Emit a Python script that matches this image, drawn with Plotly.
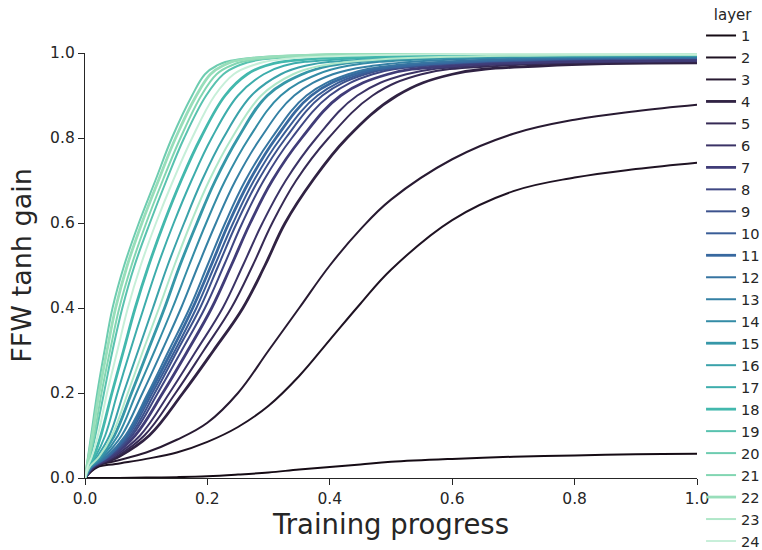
import plotly.graph_objects as go

# ---------------- data ----------------
LAYERS = list(range(1, 25))

# layers 1-3: gain sampled on a training-progress grid
PROGRESS_GRID = [0, 0.02, 0.05, 0.1, 0.15, 0.2, 0.25, 0.3, 0.35, 0.4, 0.45, 0.5, 0.6, 0.7, 0.8, 0.9, 1.0]
gain_L01 = [0, 0.0, 0.0, 0.001, 0.002, 0.004, 0.008, 0.013, 0.02, 0.026, 0.032, 0.038, 0.045, 0.05, 0.053, 0.056, 0.057]
gain_L02 = [0, 0.025, 0.033, 0.045, 0.06, 0.085, 0.12, 0.17, 0.24, 0.325, 0.41, 0.49, 0.607, 0.675, 0.707, 0.727, 0.742]
gain_L03 = [0, 0.028, 0.04, 0.06, 0.09, 0.13, 0.2, 0.3, 0.4, 0.5, 0.585, 0.655, 0.75, 0.81, 0.843, 0.863, 0.878]

# layers 4-24: training progress at which each gain level is reached
GAIN_LEVELS = [0.0, 0.025, 0.05, 0.1, 0.2, 0.3, 0.4, 0.5, 0.6, 0.7, 0.8, 0.9, 0.95, 0.97]
progress_L04 = [0, 0.015, 0.055, 0.105, 0.16, 0.21, 0.258, 0.294, 0.327, 0.372, 0.428, 0.51, 0.6, 0.75]
progress_L05 = [0, 0.014, 0.051, 0.097, 0.148, 0.194, 0.239, 0.274, 0.306, 0.345, 0.398, 0.47, 0.55, 0.68]
progress_L06 = [0, 0.013, 0.047, 0.09, 0.138, 0.182, 0.225, 0.258, 0.29, 0.328, 0.378, 0.445, 0.525, 0.64]
progress_L07 = [0, 0.012, 0.043, 0.082, 0.127, 0.168, 0.207, 0.239, 0.27, 0.306, 0.354, 0.418, 0.495, 0.6]
progress_L08 = [0, 0.011, 0.04, 0.077, 0.119, 0.158, 0.196, 0.227, 0.257, 0.292, 0.338, 0.4, 0.47, 0.56]
progress_L09 = [0, 0.011, 0.0385, 0.074, 0.114, 0.151, 0.188, 0.218, 0.248, 0.283, 0.328, 0.388, 0.458, 0.545]
progress_L10 = [0, 0.0106, 0.037, 0.071, 0.11, 0.147, 0.182, 0.212, 0.242, 0.276, 0.32, 0.38, 0.45, 0.535]
progress_L11 = [0, 0.0102, 0.036, 0.068, 0.106, 0.142, 0.176, 0.206, 0.235, 0.269, 0.312, 0.37, 0.44, 0.52]
progress_L12 = [0, 0.0099, 0.035, 0.066, 0.103, 0.137, 0.171, 0.2, 0.229, 0.262, 0.305, 0.362, 0.43, 0.5]
progress_L13 = [0, 0.0091, 0.031, 0.06, 0.094, 0.126, 0.157, 0.185, 0.214, 0.246, 0.287, 0.342, 0.405, 0.47]
progress_L14 = [0, 0.0083, 0.028, 0.054, 0.084, 0.114, 0.143, 0.17, 0.198, 0.229, 0.268, 0.32, 0.38, 0.43]
progress_L15 = [0, 0.0075, 0.025, 0.048, 0.076, 0.103, 0.13, 0.155, 0.183, 0.213, 0.25, 0.298, 0.355, 0.4]
progress_L16 = [0, 0.0064, 0.02, 0.04, 0.063, 0.087, 0.111, 0.135, 0.162, 0.191, 0.226, 0.272, 0.32, 0.36]
progress_L17 = [0, 0.0055, 0.017, 0.033, 0.053, 0.074, 0.096, 0.119, 0.145, 0.174, 0.207, 0.25, 0.292, 0.325]
progress_L18 = [0, 0.0047, 0.014, 0.026, 0.044, 0.063, 0.082, 0.104, 0.129, 0.157, 0.189, 0.229, 0.265, 0.295]
progress_L19 = [0, 0.0034, 0.009, 0.017, 0.031, 0.045, 0.061, 0.081, 0.106, 0.133, 0.162, 0.198, 0.226, 0.25]
progress_L20 = [0, 0.0025, 0.005, 0.01, 0.02, 0.032, 0.045, 0.064, 0.088, 0.115, 0.142, 0.175, 0.196, 0.215]
progress_L21 = [0, 0.003, 0.0075, 0.015, 0.027, 0.041, 0.056, 0.076, 0.1, 0.127, 0.156, 0.19, 0.215, 0.238]
progress_L22 = [0, 0.0028, 0.006, 0.012, 0.023, 0.036, 0.05, 0.069, 0.093, 0.12, 0.148, 0.182, 0.205, 0.225]
progress_L23 = [0, 0.007, 0.023, 0.044, 0.07, 0.095, 0.121, 0.146, 0.173, 0.203, 0.24, 0.288, 0.34, 0.385]
progress_L24 = [0, 0.004, 0.011, 0.021, 0.036, 0.053, 0.07, 0.091, 0.116, 0.144, 0.175, 0.212, 0.243, 0.272]

PLATEAU_LEVEL = 0.985
# progress where gain reaches PLATEAU_LEVEL (None = never), layers 4..24
PLATEAU_PROGRESS = [None, None, None, None, 0.82, 0.78, 0.75, 0.72, 0.68, 0.6, 0.55, 0.5,
                    0.46, 0.41, 0.36, 0.29, 0.25, 0.28, 0.26, 0.48, 0.32]
# gain at end of training, layers 4..24
FINAL_GAIN = [0.977, 0.98, 0.981, 0.983, 0.987, 0.988, 0.988, 0.989, 0.99, 0.992, 0.993, 0.994,
              0.995, 0.995, 0.996, 0.997, 0.997, 0.997, 0.997, 0.996, 0.997]

X_TICKS = [0.0, 0.2, 0.4, 0.6, 0.8, 1.0]
Y_TICKS = [0.0, 0.2, 0.4, 0.6, 0.8, 1.0]

# ---------------- styling ----------------
COLORS = ["#150b14", "#1f1323", "#281a32", "#302243", "#362a55", "#3b3366", "#403c78", "#3f4783",
          "#3c528d", "#395d97", "#37689f", "#3674a1", "#3580a4", "#348ca6", "#3697a8", "#3aa2aa",
          "#3dadac", "#43b8ad", "#58c2af", "#6dccb0", "#82d6b2", "#98deba", "#b0e7c9", "#c7efd9"]
THICK = {4, 7, 11, 15, 18, 22}
FONT = "DejaVu Sans"
INK = "#262626"

family = [progress_L04, progress_L05, progress_L06, progress_L07, progress_L08, progress_L09,
          progress_L10, progress_L11, progress_L12, progress_L13, progress_L14, progress_L15,
          progress_L16, progress_L17, progress_L18, progress_L19, progress_L20, progress_L21,
          progress_L22, progress_L23, progress_L24]

fig = go.Figure()
for layer in LAYERS:
    if layer <= 3:
        xs = PROGRESS_GRID
        ys = [gain_L01, gain_L02, gain_L03][layer - 1]
    else:
        k = layer - 4
        xs = list(family[k])
        ys = list(GAIN_LEVELS)
        if PLATEAU_PROGRESS[k] is not None:
            xs.append(PLATEAU_PROGRESS[k])
            ys.append(PLATEAU_LEVEL)
        xs.append(1.0)
        ys.append(FINAL_GAIN[k])
    fig.add_trace(go.Scatter(
        x=xs, y=ys, mode="lines", name=str(layer),
        line=dict(color=COLORS[layer - 1], width=2.8 if layer in THICK else 2.0,
                  shape="spline", smoothing=1.1),
    ))

axis_common = dict(
    showline=True, linecolor=INK, linewidth=1.3, mirror=False,
    ticks="outside", ticklen=6, tickwidth=1.3, tickcolor=INK,
    showgrid=False, zeroline=False, automargin=False,
    tickfont=dict(family=FONT, size=15.5, color=INK),
    tickformat=".1f",
)

fig.update_layout(
    width=762, height=550,
    paper_bgcolor="white", plot_bgcolor="white",
    margin=dict(l=85, r=65, t=53, b=72, autoexpand=False),
    font=dict(family=FONT, color=INK),
    xaxis=dict(range=[0, 1], tickvals=X_TICKS,
               title=dict(text="Training progress", font=dict(family=FONT, size=27.5, color=INK), standoff=6),
               **axis_common),
    yaxis=dict(range=[0, 1], tickvals=Y_TICKS,
               title=dict(text="FFW tanh gain", font=dict(family=FONT, size=27, color=INK), standoff=10),
               **axis_common),
    showlegend=True,
    legend=dict(
        xref="container", yref="container", x=0.92, y=1.0, xanchor="left", yanchor="top",
        title=dict(text="layer", font=dict(family=FONT, size=15, color=INK), side="top center"),
        font=dict(family=FONT, size=14.6, color=INK),
        bgcolor="rgba(0,0,0,0)", borderwidth=0, tracegroupgap=0, itemwidth=30,
        maxheight=1200,
    ),
)

# remove the browser's default 8px page margin so the figure sits at the window origin
fig.write_html("out.html", config={"displayModeBar": False},
               post_script="document.body.style.margin='0';")
